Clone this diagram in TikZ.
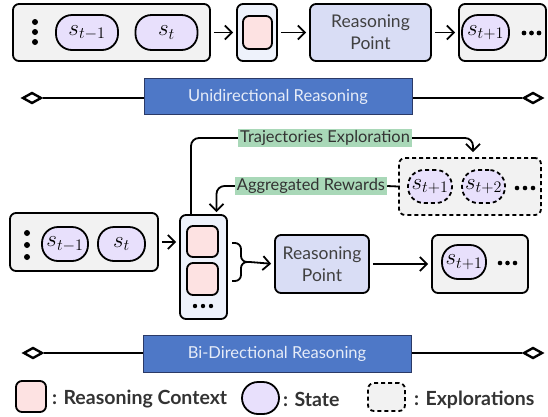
\RequirePackage{fix-cm}
\documentclass[tikz,border=0pt]{standalone}
\usepackage[no-math]{fontspec}
\setmainfont{Lato}
\usepackage{tikz}
\usetikzlibrary{arrows.meta,shapes.geometric}
\definecolor{holdgray}{HTML}{F2F2F2}
\definecolor{statepurple}{HTML}{E8E0FC}
\definecolor{ctxpink}{HTML}{FDE2E2}
\definecolor{ctxblue}{HTML}{EEF2FB}
\definecolor{pointblue}{HTML}{D9DDF5}
\definecolor{bannerblue}{HTML}{4E78C7}
\definecolor{bannerline}{HTML}{2B3A67}
\definecolor{bannertext}{HTML}{E6ECF8}
\definecolor{taggreen}{HTML}{A9D8B8}
\definecolor{darktext}{HTML}{333333}
\definecolor{pointtext}{HTML}{404040}
\tikzstyle{holder} = [draw=black, line width=1.8pt, rounded corners=6pt, fill=holdgray, inner sep=0pt]
\tikzstyle{explholder} = [draw=black, line width=1.8pt, dash pattern=on 4pt off 3pt, rounded corners=6pt, fill=holdgray, inner sep=0pt]
\tikzstyle{state} = [draw=black, line width=1.8pt, rounded corners=16pt, fill=statepurple, inner sep=0pt,%
	minimum height=35pt, font=\fontsize{23}{23}\selectfont]
\tikzstyle{explstate} = [state, dash pattern=on 4pt off 3pt]
\tikzstyle{context} = [draw=black, line width=1.8pt, rounded corners=6pt, fill=ctxpink, inner sep=0pt]
\tikzstyle{ctxholder} = [draw=black, line width=1.8pt, rounded corners=6pt, fill=ctxblue, inner sep=0pt]
\tikzstyle{point} = [draw=black, line width=1.8pt, rounded corners=6pt, fill=pointblue, inner sep=0pt,%
	align=center, text=pointtext, font=\fontsize{17.5}{22}\selectfont]
\tikzstyle{flow} = [-{Straight Barb[length=7pt,width=14pt]}, line width=1.8pt, shorten <=3pt, shorten >=3pt]
\tikzstyle{wire} = [line width=1.8pt]
\tikzstyle{rhomb} = [diamond, draw=black, line width=2.4pt, fill=white, inner sep=0pt, minimum width=19pt, minimum height=11pt]
\tikzstyle{banner} = [draw=bannerline, line width=1pt, fill=bannerblue, text=bannertext, inner sep=0pt,%
	minimum width=268pt, minimum height=36pt, font=\fontsize{16.5}{16.5}\selectfont]
\tikzstyle{tag} = [fill=taggreen, text=darktext, inner xsep=2pt, inner ysep=0pt, minimum height=18pt,%
	font=\fontsize{16.4}{16.4}\selectfont]
\tikzstyle{keytext} = [anchor=west, text=darktext, inner sep=0pt, font=\bfseries\fontsize{19.5}{19.5}\selectfont]

\begin{document}
\begin{tikzpicture}[x=1pt, y=-1pt]
	\useasboundingbox (0,0) rectangle (548,416);
	\node[holder, minimum width=197pt, minimum height=57pt] (past1) at (111.5,32.5) {};
	\fill (35,22) circle (3pt) (35,32) circle (3pt) (35,42) circle (3pt);
	\node[state, minimum width=62pt] (prev1) at (87,32.5) {$s_{t-1}$};
	\node[state, minimum width=62pt] (cur1) at (166.5,32.5) {$s_t$};
	\node[ctxholder, minimum width=40pt, minimum height=57pt] (ctx1) at (257,32.5) {};
	\node[context, minimum width=29pt, minimum height=33pt] (ctxa1) at (257.5,32.5) {};
	\node[point, minimum width=121pt, minimum height=57pt] (point1) at (370.5,32.5) {Reasoning\\Point};
	\node[holder, minimum width=87pt, minimum height=57pt] (next1) at (502.5,32.5) {};
	\node[state, minimum width=47pt] (nxt1) at (485.5,32.5) {$s_{t+1}$};
	\fill (524,33) circle (2.4pt) (531.5,33) circle (2.4pt) (539,33) circle (2.4pt);
	\draw[flow] (past1) -- (ctx1);
	\draw[flow] (ctx1) -- (point1);
	\draw[flow] (point1) -- (next1);

	\node[rhomb] (uniL) at (32,98) {};
	\node[rhomb] (uniR) at (533,98) {};
	\draw[wire] (uniL) -- (uniR);
	\node[banner] (uni) at (278,96.5) {Unidirectional Reasoning};

	\node[holder, minimum width=148pt, minimum height=58pt] (past2) at (84,242) {};
	\fill (27,233) circle (3pt) (27,245) circle (3pt) (27,257) circle (3pt);
	\node[state, minimum width=46pt, minimum height=34pt] (prev2) at (65,244) {$s_{t-1}$};
	\node[state, minimum width=47pt, minimum height=34pt] (cur2) at (121.5,244) {$s_t$};
	\node[ctxholder, minimum width=47pt, minimum height=104pt] (ctx2) at (203.5,267) {};
	\node[context, minimum width=31pt, minimum height=31pt] (ctxa2) at (202.5,241.5) {};
	\node[context, minimum width=31pt, minimum height=32pt] (ctxb2) at (202.5,279) {};
	\fill (195,306) circle (2.2pt) (203,306) circle (2.2pt) (211,306) circle (2.2pt);
	\node[point, minimum width=94pt, minimum height=58pt] (point2) at (322,264) {Reasoning\\Point};
	\node[holder, minimum width=96pt, minimum height=58pt] (next2) at (480,264) {};
	\node[state, minimum width=44pt, minimum height=34pt] (nxt2) at (464,262) {$s_{t+1}$};
	\fill (500,263) circle (2.3pt) (507.5,263) circle (2.3pt) (515,263) circle (2.3pt);
	\node[explholder, minimum width=142pt, minimum height=57pt] (expl) at (470,186.5) {};
	\node[explstate, minimum width=44pt, minimum height=33pt] (exa) at (430,186.5) {$s_{t+1}$};
	\node[explstate, minimum width=43pt, minimum height=33pt] (exb) at (483.5,186.5) {$s_{t+2}$};
	\fill (517,188) circle (2.3pt) (525,188) circle (2.3pt) (533,188) circle (2.3pt);
	\node[tag] (traj) at (325,138) {Trajectories Exploration};
	\node[tag] (aggr) at (311,186) {Aggregated Rewards};
	\draw[flow] (past2) -- (ctx2.west |- past2);
	\draw[wire, rounded corners=8pt] ([xshift=-12.5pt]ctx2.north) |- (traj.west);
	\draw[flow, rounded corners=8pt, shorten <=0pt, shorten >=5pt] (traj.east) -| ([xshift=3pt]expl.north);
	\draw[wire] (expl.west) -- (aggr.east);
	\draw[flow, rounded corners=8pt, shorten <=0pt, shorten >=2pt] (aggr.west) -| ([xshift=13pt]ctx2.north);
	\draw[wire, rounded corners=6pt] (232,243) -- (241,243) -- (241,262) -- (250,262);
	\draw[wire, rounded corners=6pt] (232,281) -- (241,281) -- (241,262) -- (250,262);
	\coordinate (join) at (250,262);
	\draw[flow, shorten <=0pt] (join) -- (point2.west);
	\draw[flow] (point2) -- (next2.west |- point2);

	\node[rhomb] (biL) at (33,353) {};
	\node[rhomb] (biR) at (533,353) {};
	\draw[wire] (biL) -- (biR);
	\node[banner, minimum height=37pt] (bi) at (277,353.5) {Bi-Directional Reasoning};

	\node[context, minimum width=30pt, minimum height=31pt] (keyctx) at (31,396.5) {};
	\node[keytext] (keyctxtext) at (52,399.5) {: Reasoning Context};
	\node[state, minimum width=37pt, minimum height=32pt] (keystate) at (260.5,398) {};
	\node[keytext] (keystatetext) at (283,399.5) {: State};
	\node[explholder, minimum width=37pt, minimum height=28pt] (keyexpl) at (386.5,397) {};
	\node[keytext] (keyexpltext) at (414,399.5) {: Explorations};
\end{tikzpicture}
\end{document}
